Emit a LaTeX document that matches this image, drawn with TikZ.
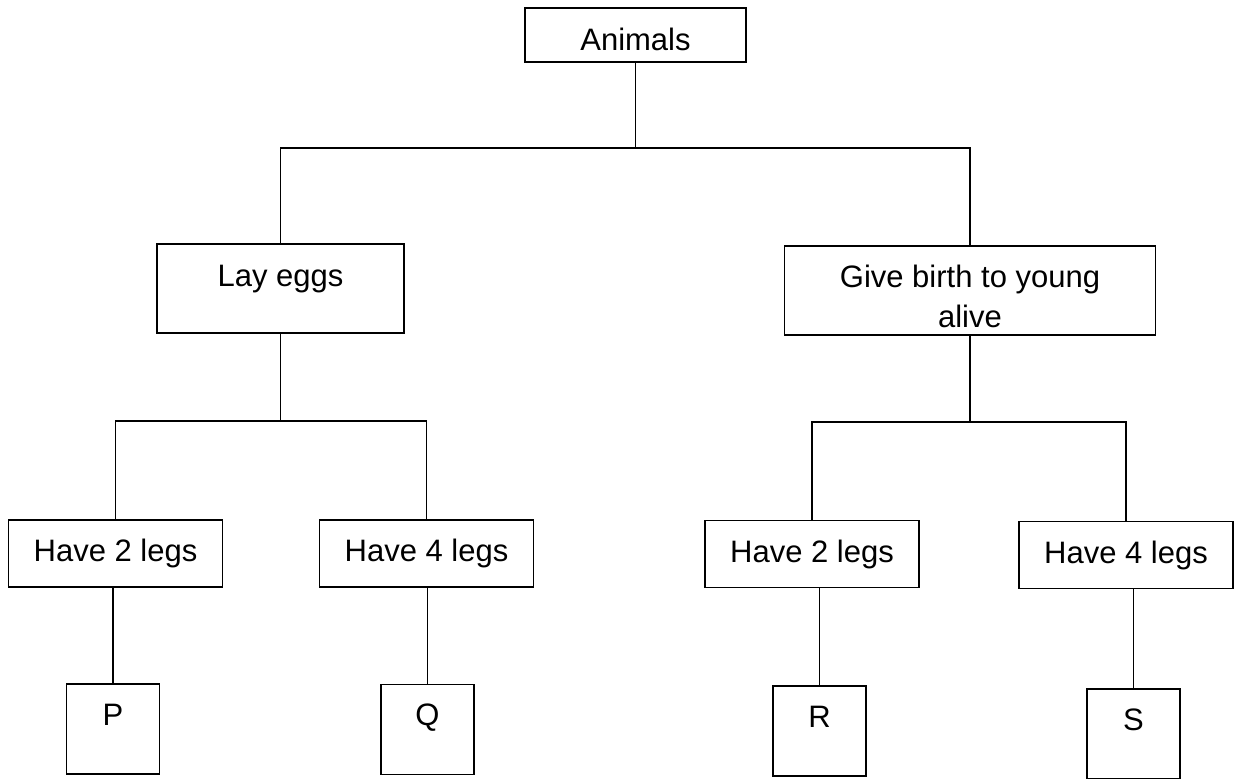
\documentclass[tikz,border=0pt]{standalone}
\usepackage{fontspec}
\setmainfont{Liberation Sans}
\usetikzlibrary{positioning}

\begin{document}
\begin{tikzpicture}[x=1pt,y=-1pt,
		box/.style={draw,line width=1.5pt,inner sep=0pt,font=\fontsize{31}{40}\selectfont},
		legbox/.style={box,minimum width=214pt,minimum height=67pt},
		leafbox/.style={box,minimum width=93pt,text height=41pt,text depth=49pt},
		toptext/.style={inner sep=0pt,align=center,font=\fontsize{31}{40}\selectfont},
		link/.style={line width=1.5pt}]
	\useasboundingbox (0,0) rectangle (1237,779);
	% top levels
	\node[box,minimum width=221pt,text height=30pt,text depth=0pt,minimum height=54pt] (animals) at (635.5,35) {Animals};
	\node[box,minimum width=247pt,text height=42pt,text depth=47pt] (lay) at (280.5,288.5) {Lay eggs};
	\node[box,minimum width=371pt,minimum height=89pt] (give) at (970,290.5) {};
	\node[toptext,below=20pt of give.north] (givetext) {Give birth to young\\alive};
	% legs
	\node[legbox] (h2l) at (115.5,553.5) {Have 2 legs};
	\node[legbox] (h4l) at (426.5,553.5) {Have 4 legs};
	\node[legbox] (h2r) at (812,554) {Have 2 legs};
	\node[legbox] (h4r) at (1126,555) {Have 4 legs};
	% leaves
	\node[leafbox] (p) at (113,729) {P};
	\node[leafbox] (q) at (427.5,729.5) {Q};
	\node[leafbox] (r) at (819.5,731) {R};
	\node[leafbox] (s) at (1133.5,734) {S};
	% connectors
	\coordinate (j0) at (animals.south |- 0,148);
	\coordinate (j1) at (lay.south |- 0,421);
	\coordinate (j2) at (give.south |- 0,422);
	\draw[link] (animals.south) -- (j0);
	\draw[link] (lay.north) |- (j0) -| (give.north);
	\draw[link] (lay.south) -- (j1);
	\draw[link] (h2l.north) |- (j1) -| (h4l.north);
	\draw[link] (give.south) -- (j2);
	\draw[link] (h2r.north) |- (j2) -| (h4r.north);
	\foreach \a/\b in {h2l/p,h4l/q,h2r/r,h4r/s}
	{\draw[link] (\b.north) -- (\b.north |- \a.south);}
\end{tikzpicture}
\end{document}
